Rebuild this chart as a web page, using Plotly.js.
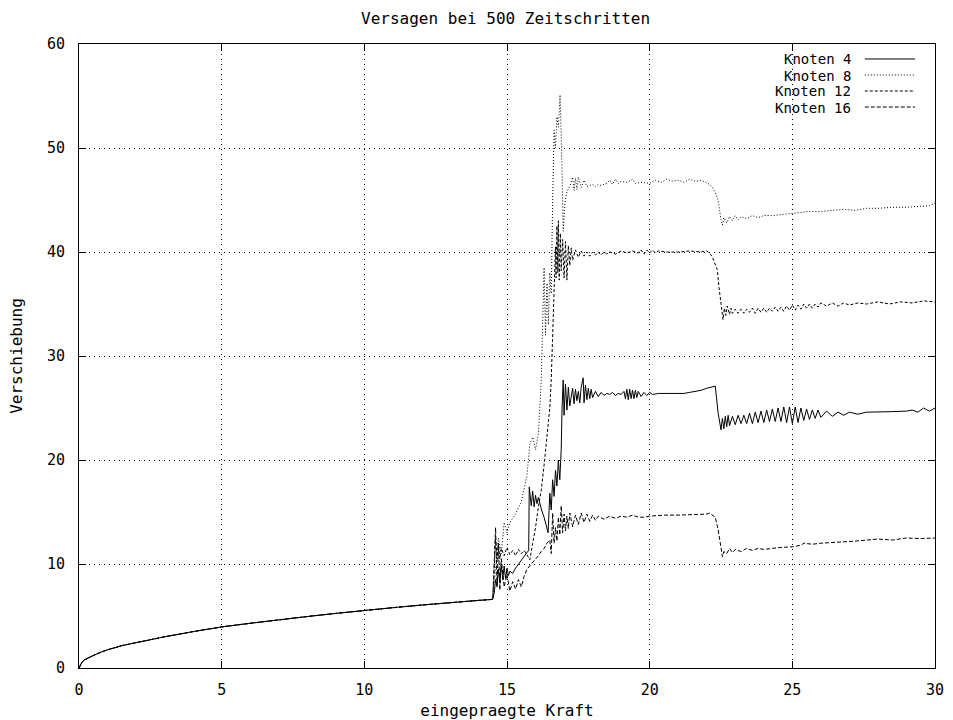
<!DOCTYPE html>
<html>
<head>
<meta charset="utf-8">
<script src="https://cdn.plot.ly/plotly-3.0.1.min.js"></script>
<style>html,body{margin:0;padding:0;background:#fff;}#chart{width:953px;height:720px;}</style>
</head>
<body>
<div id="chart"></div>
<script>
// Shared initial branch (all nodes identical before failure)
const baseX = [0, 0.05, 0.1, 0.2, 0.3, 0.5, 0.75, 1, 1.5, 2, 2.5, 3, 4, 5, 6, 7, 8, 9, 10, 11, 12, 13, 14, 14.5];
const baseY = [0, 0.35, 0.55, 0.8, 0.95, 1.2, 1.5, 1.75, 2.15, 2.45, 2.75, 3.0, 3.5, 3.95, 4.3, 4.65, 4.95, 5.25, 5.55, 5.8, 6.05, 6.3, 6.5, 6.6];

// Knoten 4 (after failure onset)
const k4X = [14.55,14.6,14.65,14.7,14.75,14.8,14.85,14.9,14.95,15.0,15.05,15.1,15.2,15.3,15.4,15.5,15.6,15.7,15.76,15.78,15.85,15.9,15.95,16.0,16.05,16.1,16.2,16.3,16.44,16.5,16.55,16.6,16.65,16.7,16.75,16.8,16.85,16.9,16.93,16.97,17.0,17.05,17.1,17.15,17.2,17.3,17.35,17.4,17.45,17.5,17.55,17.6,17.67,17.7,17.75,17.8,17.85,17.9,17.95,18.0,18.1,18.2,18.3,18.4,18.5,18.6,18.7,18.8,18.9,19.0,19.1,19.15,19.2,19.25,19.3,19.35,19.4,19.45,19.5,19.55,19.6,19.7,19.8,19.9,20.0,20.1,20.3,21.2,21.4,21.6,21.8,22.0,22.2,22.3,22.4,22.5,22.55,22.6,22.65,22.7,22.75,22.8,22.9,23.0,23.1,23.2,23.3,23.4,23.5,23.6,23.7,23.8,23.9,24.0,24.1,24.2,24.3,24.4,24.5,24.6,24.7,24.8,24.9,25.0,25.1,25.2,25.3,25.4,25.5,25.6,25.7,25.8,25.9,26.0,26.2,26.4,26.6,26.8,27.0,27.3,27.6,28.0,28.5,29.0,29.2,29.4,29.6,29.8,30.0];
const k4Y = [7.2,8.5,7.8,9.5,8.2,10.0,8.5,9.8,8.6,9.6,8.9,9.3,9.1,9.6,10.0,10.4,10.8,11.1,11.3,17.4,15.6,17.0,15.5,16.6,15.8,16.4,15.3,14.5,13.0,16.8,15.2,18.1,16.5,19.0,17.5,20.0,18.1,21.0,25.0,27.7,24.3,27.3,24.8,27.0,25.2,26.9,25.4,26.8,25.7,26.6,25.5,27.0,27.9,25.5,27.2,25.8,26.9,25.9,26.8,26.0,26.6,26.1,26.5,26.2,26.4,26.3,26.5,26.2,26.4,26.3,26.6,25.9,26.8,25.8,26.8,25.9,26.7,25.9,26.7,26.0,26.6,26.1,26.5,26.2,26.5,26.3,26.4,26.4,26.5,26.6,26.7,26.9,27.0,27.1,24.5,22.9,24.0,23.0,24.2,23.2,24.3,23.3,24.2,23.4,24.3,23.5,24.3,23.5,24.5,23.5,24.6,23.6,24.7,23.6,24.8,23.7,24.9,23.7,25.0,23.7,25.1,23.6,25.1,23.5,25.1,23.6,25.0,23.8,24.9,23.9,24.8,24.0,24.8,24.1,24.7,24.2,24.6,24.3,24.6,24.4,24.6,24.6,24.65,24.7,24.8,24.6,25.0,24.7,25.0];

// Knoten 8
const k8X = [14.6,14.7,14.8,14.9,15.0,15.1,15.3,15.5,15.7,15.8,15.9,16.0,16.1,16.2,16.3,16.35,16.4,16.45,16.5,16.55,16.6,16.65,16.7,16.75,16.8,16.86,16.92,16.97,17.03,17.1,17.2,17.3,17.35,17.4,17.45,17.5,17.6,17.7,17.8,17.9,18.0,18.1,18.2,18.3,18.5,18.6,18.7,18.8,18.9,19.0,19.2,19.4,19.5,19.7,20.0,20.2,20.4,20.6,20.8,21.0,21.2,21.4,21.6,21.8,22.0,22.1,22.2,22.3,22.4,22.45,22.5,22.55,22.6,22.7,22.8,22.9,23.0,23.1,23.2,23.4,23.6,23.8,24.0,24.3,24.6,25.0,25.3,25.6,26.0,26.4,26.8,27.2,27.6,28.0,28.5,29.0,29.5,29.8,30.0];
const k8Y = [9.5,12.5,11.0,14.0,13.0,14.0,14.8,16.0,18.5,21.5,22.2,21.0,22.5,27.7,38.5,32.0,37.0,33.0,38.0,36.0,45.0,51.7,50.0,53.0,52.0,55.1,49.0,42.0,44.7,45.8,46.3,47.2,45.9,47.1,46.0,47.2,46.2,46.9,46.3,46.4,46.5,46.3,46.5,46.4,46.6,46.9,46.5,47.0,46.6,46.8,46.7,47.0,46.6,46.7,46.6,46.9,46.7,47.0,46.8,46.9,46.7,47.0,46.8,46.9,46.6,46.5,46.2,45.7,45.0,44.0,43.1,42.6,43.3,42.8,43.4,43.0,43.5,43.1,43.4,43.2,43.5,43.3,43.5,43.5,43.6,43.75,43.8,43.9,43.9,44.0,44.1,44.0,44.2,44.2,44.3,44.3,44.4,44.45,44.7];

// Knoten 12
const k12X = [14.55,14.6,14.65,14.7,14.75,14.8,14.9,15.0,15.1,15.2,15.3,15.4,15.5,15.6,15.7,15.8,15.9,16.0,16.1,16.2,16.3,16.4,16.5,16.55,16.6,16.65,16.7,16.72,16.75,16.78,16.8,16.83,16.87,16.9,16.95,17.0,17.05,17.1,17.15,17.2,17.25,17.3,17.4,17.5,17.6,17.7,17.8,17.9,18.0,18.1,18.2,18.3,18.4,18.5,18.6,18.8,19.0,19.2,19.4,19.6,19.7,19.8,19.9,20.0,20.1,20.2,20.3,20.6,21.0,21.4,21.8,22.0,22.1,22.2,22.3,22.37,22.43,22.5,22.57,22.62,22.67,22.72,22.8,22.85,22.9,23.0,23.1,23.2,23.3,23.4,23.5,23.6,23.7,23.8,23.9,24.0,24.1,24.2,24.3,24.4,24.5,24.6,24.7,24.8,24.9,25.0,25.1,25.2,25.3,25.4,25.5,25.6,25.7,25.8,25.9,26.0,26.2,26.4,26.6,26.8,27.0,27.3,27.6,28.0,28.4,28.8,29.2,29.6,30.0];
const k12Y = [9.0,12.5,10.5,12.0,10.5,11.5,10.8,11.6,10.9,11.3,10.8,11.4,11.0,11.3,10.9,10.4,12.0,13.5,15.5,17.1,19.5,22.0,25.0,27.7,32.5,36.0,40.5,37.5,42.5,38.0,43.0,37.3,41.8,38.2,41.2,37.5,41.0,37.3,40.6,38.7,40.4,39.2,40.2,39.5,40.1,39.6,40.0,39.6,40.0,39.7,40.0,39.7,40.0,39.8,40.0,39.8,40.1,39.9,40.1,39.9,40.2,39.8,40.2,39.9,40.2,39.9,40.1,40.0,40.0,40.1,40.0,40.1,39.9,39.5,38.8,38.3,36.6,34.7,33.5,34.6,33.9,34.8,34.0,34.6,34.1,34.5,34.1,34.5,34.1,34.5,34.2,34.6,34.1,34.6,34.2,34.6,34.2,34.6,34.3,34.7,34.3,34.7,34.3,34.8,34.4,34.9,34.4,34.9,34.5,35.0,34.6,35.0,34.6,35.0,34.7,35.1,34.8,35.1,34.8,35.1,34.9,35.1,35.0,35.2,35.0,35.2,35.1,35.3,35.2];

// Knoten 16
const k16X = [14.55,14.6,14.65,14.7,14.75,14.8,14.9,15.0,15.1,15.2,15.3,15.4,15.5,15.6,15.7,15.8,15.9,16.0,16.1,16.2,16.3,16.4,16.5,16.55,16.6,16.65,16.7,16.75,16.8,16.85,16.9,16.95,17.0,17.05,17.1,17.15,17.2,17.3,17.4,17.5,17.6,17.7,17.8,17.9,18.0,18.1,18.2,18.4,18.6,18.8,19.0,19.2,19.4,19.6,19.8,20.0,20.5,21.0,21.5,22.0,22.1,22.2,22.3,22.4,22.45,22.5,22.55,22.6,22.7,22.8,22.9,23.0,23.2,23.4,23.6,23.8,24.0,24.3,24.6,25.0,25.3,25.4,25.7,26.0,26.4,26.8,27.2,27.6,28.0,28.5,29.0,29.5,30.0];
const k16Y = [10.0,13.5,8.0,12.0,7.5,10.5,7.8,9.0,7.4,8.3,7.6,8.5,7.8,8.8,9.5,9.8,10.2,10.4,10.8,11.2,11.5,12.0,12.3,11.0,14.9,12.0,13.5,12.2,14.5,12.8,15.6,13.0,14.8,13.2,14.6,13.4,14.9,13.6,14.7,13.8,14.9,14.0,14.8,14.1,14.7,14.2,14.6,14.3,14.6,14.4,14.6,14.5,14.7,14.5,14.5,14.6,14.7,14.7,14.75,14.8,14.9,14.7,14.5,13.3,12.3,11.5,10.7,11.2,11.0,11.5,11.1,11.4,11.2,11.5,11.3,11.5,11.4,11.5,11.6,11.65,11.8,12.0,11.9,12.0,12.05,12.1,12.2,12.3,12.4,12.3,12.5,12.45,12.5];

const seriesNames = ['Knoten 4', 'Knoten 8', 'Knoten 12', 'Knoten 16'];
const seriesX = [k4X, k8X, k12X, k16X];
const seriesY = [k4Y, k8Y, k12Y, k16Y];
const dashes = ['solid', '1px,2px', '3px,2px', '4px,2px'];

const xTicks = [0, 5, 10, 15, 20, 25, 30];
const yTicks = [0, 10, 20, 30, 40, 50, 60];

const FONT = 'DejaVu Sans Mono, monospace';
const TXT = 16;
const TICK = 15;
const LEG = 14;

const traces = seriesNames.map((name, i) => ({
  type: 'scatter',
  mode: 'lines',
  name: name,
  x: baseX.concat(seriesX[i]),
  y: baseY.concat(seriesY[i]),
  line: {color: '#000', width: 1, dash: dashes[i]},
  showlegend: false,
  hoverinfo: 'x+y+name'
}));

// Manual legend (text right-aligned, line sample to the right, gnuplot style)
const legendRowsY = [0.976, 0.9503, 0.9247, 0.899];
const annotations = seriesNames.map((name, i) => ({
  xref: 'paper', yref: 'paper',
  x: 0.9035, y: legendRowsY[i],
  xanchor: 'right', yanchor: 'middle',
  text: name, showarrow: false, borderpad: 0, height: 15,
  font: {family: FONT, size: LEG, color: '#000'}
}));
const shapes = seriesNames.map((name, i) => ({
  type: 'line', xref: 'paper', yref: 'paper',
  x0: 0.918, x1: 0.9766, y0: legendRowsY[i], y1: legendRowsY[i],
  line: {color: '#000', width: 1, dash: dashes[i]}
}));

const axisCommon = {
  showline: true, linecolor: '#000', linewidth: 1, mirror: 'allticks',
  ticks: 'inside', ticklen: 7, tickcolor: '#000', tickwidth: 1,
  showgrid: true, gridcolor: '#000', gridwidth: 1, griddash: '1px,4px',
  zeroline: false,
  tickfont: {family: FONT, size: TICK, color: '#000'}
};

const layout = {
  width: 953, height: 720,
  margin: {l: 79, r: 18, t: 44, b: 52, pad: 0},
  paper_bgcolor: '#fff', plot_bgcolor: '#fff',
  font: {family: FONT, size: TXT, color: '#000'},
  title: {
    text: 'Versagen bei 500 Zeitschritten',
    x: 0.5305, xanchor: 'center', y: 0.975, yanchor: 'middle',
    font: {family: FONT, size: TXT, color: '#000'}
  },
  xaxis: Object.assign({}, axisCommon, {
    range: [0, 30], tickvals: xTicks, ticktext: xTicks.map(String),
    ticklabelstandoff: 8,
    title: {text: 'eingepraegte Kraft', standoff: 8, font: {family: FONT, size: TXT, color: '#000'}}
  }),
  yaxis: Object.assign({}, axisCommon, {
    range: [0, 60], tickvals: yTicks, ticktext: yTicks.map(String),
    ticklabelstandoff: 10,
    title: {text: 'Verschiebung', standoff: 20, font: {family: FONT, size: TXT, color: '#000'}}
  }),
  annotations: annotations,
  shapes: shapes,
  showlegend: false
};

Plotly.newPlot('chart', traces, layout, {staticPlot: true, displayModeBar: false});
</script>
</body>
</html>
